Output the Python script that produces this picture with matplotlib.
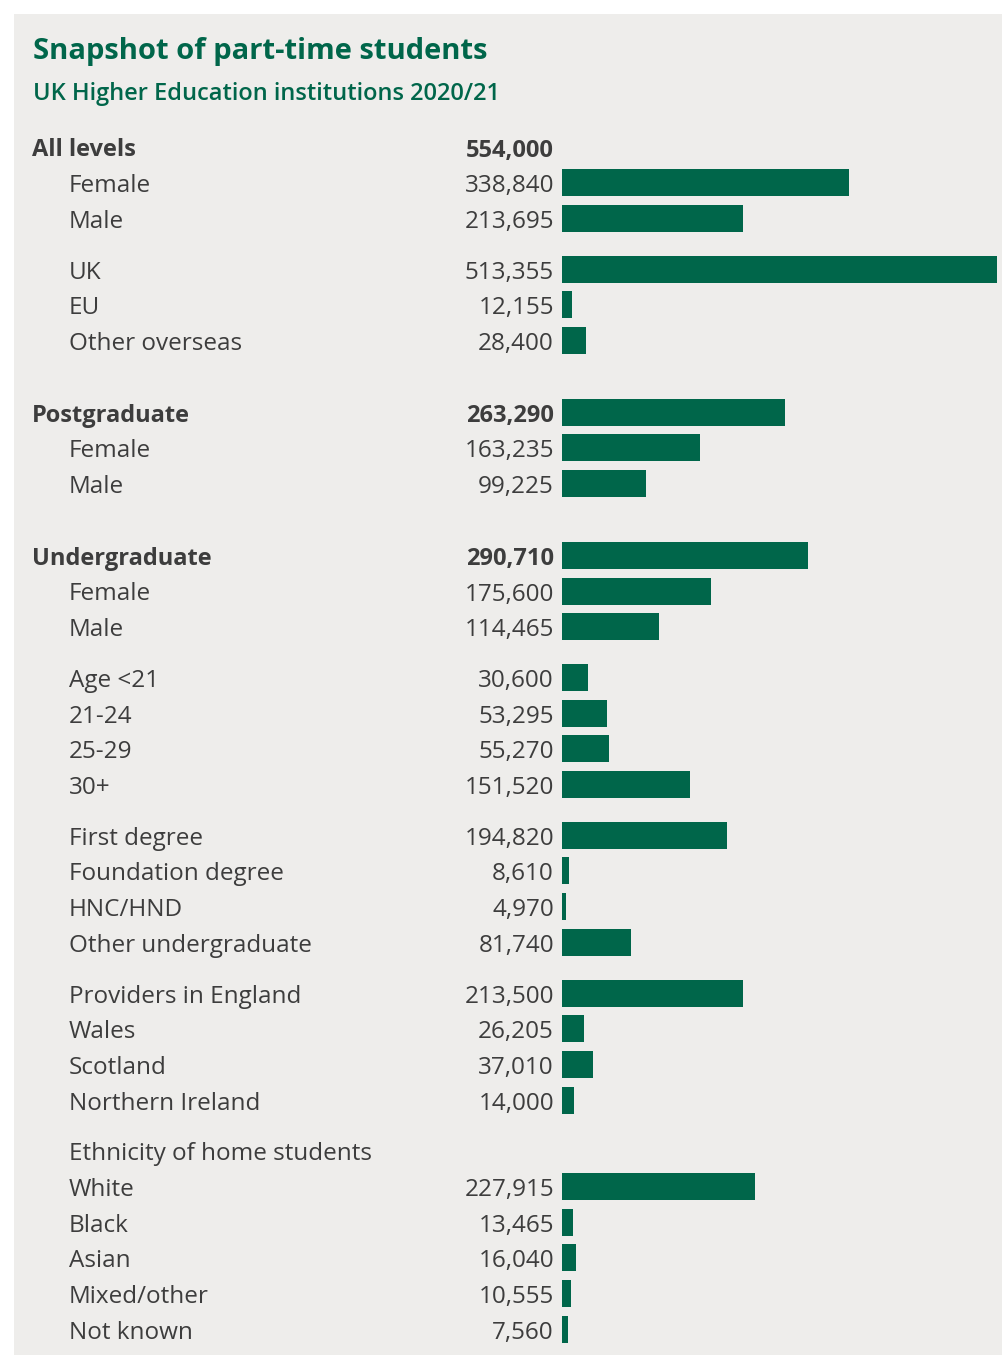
import matplotlib
matplotlib.use('Agg')
import matplotlib.pyplot as plt
from matplotlib.patches import Rectangle

plt.rcParams['font.family'] = ['Open Sans', 'DejaVu Sans']

GREEN = '#00664A'
TEXT = '#3D3D3D'
PANEL = '#EEEDEB'

TITLE = 'Snapshot of part-time students'
SUBTITLE = 'UK Higher Education institutions 2020/21'

labels = [
    'All levels', 'Female', 'Male', 'UK', 'EU', 'Other overseas',
    'Postgraduate', 'Female', 'Male',
    'Undergraduate', 'Female', 'Male',
    'Age <21', '21-24', '25-29', '30+',
    'First degree', 'Foundation degree', 'HNC/HND', 'Other undergraduate',
    'Providers in England', 'Wales', 'Scotland', 'Northern Ireland',
    'Ethnicity of home students', 'White', 'Black', 'Asian', 'Mixed/other', 'Not known',
]
values = [
    554000, 338840, 213695, 513355, 12155, 28400,
    263290, 163235, 99225,
    290710, 175600, 114465,
    30600, 53295, 55270, 151520,
    194820, 8610, 4970, 81740,
    213500, 26205, 37010, 14000,
    None, 227915, 13465, 16040, 10555, 7560,
]
# row kind: 'head' = bold section total, 'item' = indented row
kinds = [
    'head', 'item', 'item', 'item', 'item', 'item',
    'head', 'item', 'item',
    'head', 'item', 'item',
    'item', 'item', 'item', 'item',
    'item', 'item', 'item', 'item',
    'item', 'item', 'item', 'item',
    'item', 'item', 'item', 'item', 'item', 'item',
]
# break before row: 0 none, 1 small, 2 section
breaks = [
    0, 0, 0, 1, 0, 0,
    2, 0, 0,
    2, 0, 0,
    1, 0, 0, 0,
    1, 0, 0, 0,
    1, 0, 0, 0,
    1, 0, 0, 0, 0, 0,
]
no_bar = {'All levels', 'Ethnicity of home students'}

W, H = 1002, 1355
fig = plt.figure(figsize=(W / 100, H / 100), dpi=100)
fig.patch.set_facecolor('white')

bg = fig.add_axes([0, 0, 1, 1])
bg.set_xlim(0, W)
bg.set_ylim(H, 0)
bg.axis('off')
bg.add_patch(Rectangle((14, 14), W, H, facecolor=PANEL, edgecolor='none'))

bg.text(33, 59, TITLE, fontsize=21, fontweight='bold', color=GREEN,
        ha='left', va='baseline')
bg.text(33, 100, SUBTITLE, fontsize=17, fontweight='semibold', color=GREEN,
        ha='left', va='baseline')

# row positions
step, small_gap, big_gap = 35.7, 15, 36
ys = []
y = 147
for i, b in enumerate(breaks):
    if i > 0:
        y += step + (small_gap if b == 1 else big_gap if b == 2 else 0)
    ys.append(y)

bar_x0 = 562
px_per_unit = 435 / 513355
ax = fig.add_axes([bar_x0 / W, 0, 1 - bar_x0 / W, 1])
ax.set_xlim(0, (W - bar_x0) / px_per_unit)
ax.set_ylim(H, 0)
ax.axis('off')
ax.patch.set_alpha(0)

for lab, val, kind, yy in zip(labels, values, kinds, ys):
    head = kind == 'head'
    x_lab = 32 if head else 69
    w = 'bold' if head else 'normal'
    fs = 17 if head else 17.5
    bg.text(x_lab, yy + 9.5, lab, fontsize=fs, fontweight=w,
            color=TEXT, ha='left', va='baseline')
    if val is not None:
        bg.text(554, yy + 9.5, f'{val:,}', fontsize=fs,
                fontweight=w, color=TEXT, ha='right', va='baseline')
        if lab not in no_bar:
            ax.barh(yy, val, height=27, left=0, color=GREEN)

fig.savefig('out.png', dpi=100)
